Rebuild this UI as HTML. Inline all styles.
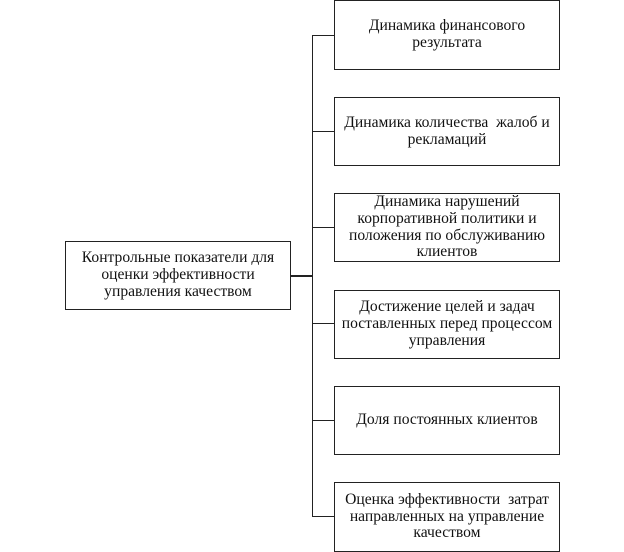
<!DOCTYPE html>
<html><head><meta charset="utf-8"><style>
body{margin:0;width:624px;height:552px;background:#fff;position:relative;overflow:hidden;font-family:"Liberation Serif","DejaVu Serif",serif;font-size:15.6px;color:#111}
.b{position:absolute;border:1px solid #222;box-sizing:border-box;display:flex;align-items:center;justify-content:center;text-align:center;line-height:16.8px;padding:0 2px;white-space:nowrap}
.l{position:absolute;background:#222}
</style></head><body>
<div class="b" style="left:65px;top:241px;width:226px;height:69px">Контрольные показатели для<br>оценки эффективности<br>управления качеством</div>
<div class="l" style="left:290px;top:275px;width:23px;height:2px"></div>
<div class="l" style="left:312px;top:35px;width:1px;height:482px"></div>
<div class="l" style="left:312px;top:35px;width:22px;height:1px"></div>
<div class="l" style="left:312px;top:131px;width:22px;height:1px"></div>
<div class="l" style="left:312px;top:227px;width:22px;height:1px"></div>
<div class="l" style="left:312px;top:323px;width:22px;height:1px"></div>
<div class="l" style="left:312px;top:420px;width:22px;height:1px"></div>
<div class="l" style="left:312px;top:516px;width:22px;height:1px"></div>
<div class="b" style="left:334px;top:0px;width:226px;height:70px">Динамика финансового<br>результата</div>
<div class="b" style="left:334px;top:97px;width:226px;height:69px">Динамика количества&nbsp; жалоб и<br>рекламаций</div>
<div class="b" style="left:334px;top:193px;width:226px;height:69px">Динамика нарушений<br>корпоративной политики и<br>положения по обслуживанию<br>клиентов</div>
<div class="b" style="left:334px;top:290px;width:226px;height:69px">Достижение целей и задач<br>поставленных перед процессом<br>управления</div>
<div class="b" style="left:334px;top:386px;width:226px;height:69px">Доля постоянных клиентов</div>
<div class="b" style="left:334px;top:482px;width:226px;height:70px">Оценка эффективности&nbsp; затрат<br>направленных на управление<br>качеством</div>
</body></html>
